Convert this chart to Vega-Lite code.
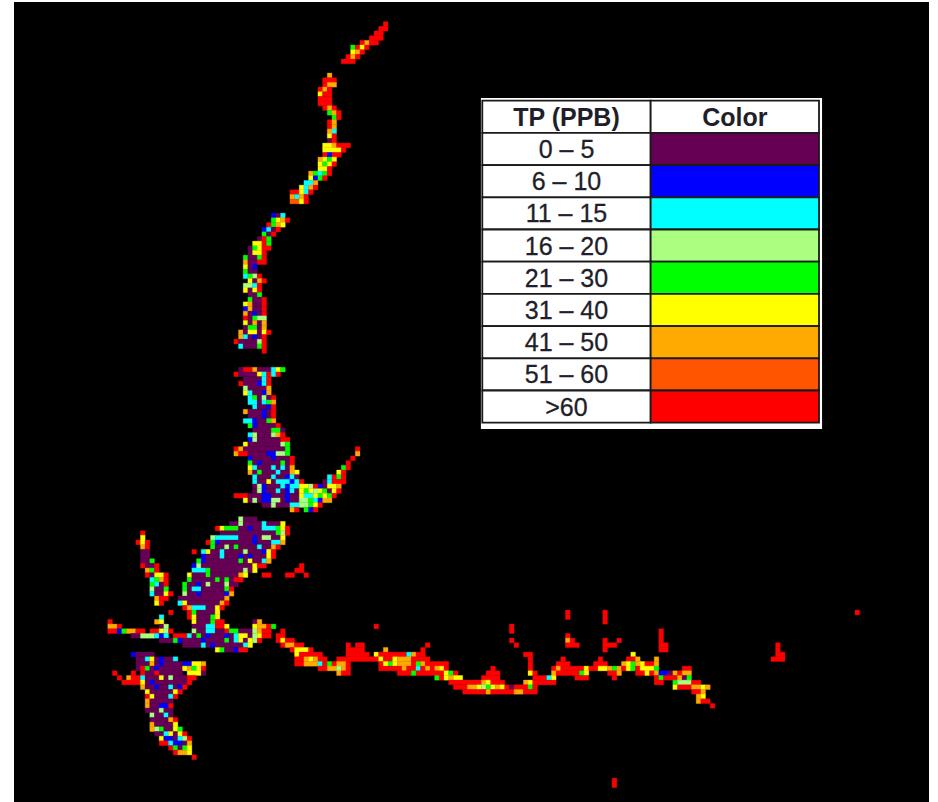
{"$schema":"https://vega.github.io/schema/vega-lite/v6.json","width":915,"height":800,"autosize":"none","padding":{"left":14,"top":2,"right":9,"bottom":0},"background":"#ffffff","config":{"view":{"fill":"#000000","stroke":null}},
"datasets":{"panel":[{"a":102.9,"b":175.95,"t":21.34,"u":92.2}],
"table":[{"row":"TP (PPB)","col":"TP (PPB)","k":"W","text":"TP (PPB)","h":1},{"row":"TP (PPB)","col":"Color","k":"W","text":"Color","h":1},
{"row":"0 – 5","col":"TP (PPB)","k":"W","text":"0 – 5","h":0},{"row":"0 – 5","col":"Color","k":"P","text":"","h":0},
{"row":"6 – 10","col":"TP (PPB)","k":"W","text":"6 – 10","h":0},{"row":"6 – 10","col":"Color","k":"B","text":"","h":0},
{"row":"11 – 15","col":"TP (PPB)","k":"W","text":"11 – 15","h":0},{"row":"11 – 15","col":"Color","k":"C","text":"","h":0},
{"row":"16 – 20","col":"TP (PPB)","k":"W","text":"16 – 20","h":0},{"row":"16 – 20","col":"Color","k":"L","text":"","h":0},
{"row":"21 – 30","col":"TP (PPB)","k":"W","text":"21 – 30","h":0},{"row":"21 – 30","col":"Color","k":"G","text":"","h":0},
{"row":"31 – 40","col":"TP (PPB)","k":"W","text":"31 – 40","h":0},{"row":"31 – 40","col":"Color","k":"Y","text":"","h":0},
{"row":"41 – 50","col":"TP (PPB)","k":"W","text":"41 – 50","h":0},{"row":"41 – 50","col":"Color","k":"O","text":"","h":0},
{"row":"51 – 60","col":"TP (PPB)","k":"W","text":"51 – 60","h":0},{"row":"51 – 60","col":"Color","k":"N","text":"","h":0},
{"row":">60","col":"TP (PPB)","k":"W","text":">60","h":0},{"row":">60","col":"Color","k":"R","text":"","h":0}],
"cells":[
{"a":82,"b":83,"r":5,"k":"R"},{"a":81,"b":83,"r":6,"k":"R"},{"a":80,"b":82,"r":7,"k":"R"},{"a":79,"b":82,"r":8,"k":"R"},{"a":77,"b":78,"r":9,"k":"R"},{"a":78,"b":79,"r":9,"k":"O"},{"a":79,"b":81,"r":9,"k":"R"},{"a":75,"b":76,"r":10,"k":"G"},{"a":76,"b":77,"r":10,"k":"R"},{"a":77,"b":78,"r":10,"k":"Y"},{"a":78,"b":79,"r":10,"k":"R"},{"a":75,"b":76,"r":11,"k":"Y"},{"a":76,"b":77,"r":11,"k":"O"},{"a":77,"b":78,"r":11,"k":"R"},{"a":74,"b":75,"r":12,"k":"R"},{"a":75,"b":76,"r":12,"k":"O"},{"a":76,"b":77,"r":12,"k":"R"},{"a":73,"b":76,"r":13,"k":"R"},
{"a":70,"b":71,"r":16,"k":"O"},{"a":69,"b":72,"r":17,"k":"R"},{"a":69,"b":70,"r":18,"k":"R"},{"a":70,"b":72,"r":18,"k":"O"},{"a":68,"b":69,"r":19,"k":"R"},{"a":69,"b":70,"r":19,"k":"O"},{"a":70,"b":71,"r":19,"k":"R"},{"a":68,"b":69,"r":20,"k":"Y"},{"a":69,"b":71,"r":20,"k":"R"},{"a":68,"b":71,"r":21,"k":"R"},{"a":68,"b":71,"r":22,"k":"R"},{"a":69,"b":70,"r":23,"k":"R"},{"a":70,"b":71,"r":23,"k":"O"},{"a":71,"b":72,"r":23,"k":"R"},{"a":70,"b":71,"r":24,"k":"G"},{"a":71,"b":72,"r":24,"k":"O"},{"a":72,"b":73,"r":24,"k":"R"},{"a":71,"b":72,"r":25,"k":"G"},{"a":72,"b":73,"r":25,"k":"R"},{"a":70,"b":71,"r":26,"k":"R"},{"a":71,"b":72,"r":26,"k":"O"},{"a":70,"b":71,"r":27,"k":"R"},{"a":71,"b":72,"r":27,"k":"O"},{"a":70,"b":71,"r":28,"k":"O"},{"a":71,"b":72,"r":28,"k":"C"},{"a":70,"b":71,"r":29,"k":"Y"},{"a":71,"b":72,"r":29,"k":"R"},{"a":70,"b":71,"r":30,"k":"P"},{"a":71,"b":72,"r":30,"k":"R"},
{"a":69,"b":71,"r":31,"k":"Y"},{"a":71,"b":72,"r":31,"k":"O"},{"a":72,"b":75,"r":31,"k":"R"},{"a":69,"b":73,"r":32,"k":"Y"},{"a":73,"b":74,"r":32,"k":"R"},{"a":69,"b":70,"r":33,"k":"R"},{"a":70,"b":71,"r":33,"k":"B"},{"a":71,"b":73,"r":33,"k":"R"},{"a":68,"b":69,"r":34,"k":"O"},{"a":69,"b":70,"r":34,"k":"Y"},{"a":70,"b":71,"r":34,"k":"G"},{"a":71,"b":72,"r":34,"k":"Y"},{"a":68,"b":69,"r":35,"k":"Y"},{"a":69,"b":70,"r":35,"k":"G"},{"a":70,"b":71,"r":35,"k":"Y"},{"a":71,"b":72,"r":35,"k":"R"},{"a":68,"b":70,"r":36,"k":"Y"},{"a":70,"b":71,"r":36,"k":"R"},{"a":66,"b":67,"r":37,"k":"O"},{"a":67,"b":68,"r":37,"k":"G"},{"a":68,"b":69,"r":37,"k":"C"},{"a":69,"b":70,"r":37,"k":"G"},{"a":70,"b":71,"r":37,"k":"R"},{"a":66,"b":67,"r":38,"k":"Y"},{"a":67,"b":68,"r":38,"k":"B"},{"a":68,"b":69,"r":38,"k":"G"},{"a":69,"b":70,"r":38,"k":"R"},{"a":65,"b":67,"r":39,"k":"C"},{"a":67,"b":68,"r":39,"k":"O"},{"a":64,"b":65,"r":40,"k":"Y"},{"a":65,"b":66,"r":40,"k":"C"},{"a":66,"b":67,"r":40,"k":"O"},{"a":67,"b":68,"r":40,"k":"R"},{"a":62,"b":64,"r":41,"k":"R"},{"a":64,"b":65,"r":41,"k":"Y"},{"a":65,"b":66,"r":41,"k":"C"},{"a":66,"b":67,"r":41,"k":"R"},{"a":62,"b":63,"r":42,"k":"O"},{"a":63,"b":64,"r":42,"k":"C"},{"a":64,"b":65,"r":42,"k":"O"},{"a":65,"b":66,"r":42,"k":"R"},{"a":62,"b":64,"r":43,"k":"N"},{"a":64,"b":65,"r":43,"k":"Y"},{"a":65,"b":66,"r":43,"k":"R"},
{"a":58,"b":59,"r":46,"k":"B"},{"a":59,"b":60,"r":46,"k":"P"},{"a":60,"b":61,"r":46,"k":"C"},{"a":58,"b":59,"r":47,"k":"G"},{"a":59,"b":60,"r":47,"k":"Y"},{"a":60,"b":61,"r":47,"k":"O"},{"a":61,"b":62,"r":47,"k":"R"},{"a":57,"b":58,"r":48,"k":"R"},{"a":58,"b":59,"r":48,"k":"G"},{"a":59,"b":60,"r":48,"k":"O"},{"a":60,"b":61,"r":48,"k":"Y"},{"a":56,"b":57,"r":49,"k":"B"},{"a":57,"b":58,"r":49,"k":"C"},{"a":58,"b":59,"r":49,"k":"P"},{"a":59,"b":60,"r":49,"k":"R"},{"a":56,"b":57,"r":50,"k":"G"},{"a":57,"b":58,"r":50,"k":"P"},{"a":58,"b":59,"r":50,"k":"R"},{"a":55,"b":56,"r":51,"k":"P"},{"a":56,"b":57,"r":51,"k":"R"},{"a":57,"b":58,"r":51,"k":"G"},{"a":54,"b":56,"r":52,"k":"Y"},{"a":56,"b":57,"r":52,"k":"R"},{"a":57,"b":58,"r":52,"k":"G"},{"a":53,"b":54,"r":53,"k":"P"},{"a":54,"b":55,"r":53,"k":"G"},{"a":55,"b":56,"r":53,"k":"Y"},{"a":56,"b":58,"r":53,"k":"R"},{"a":53,"b":54,"r":54,"k":"P"},{"a":54,"b":56,"r":54,"k":"Y"},{"a":56,"b":57,"r":54,"k":"R"},{"a":52,"b":53,"r":55,"k":"G"},{"a":53,"b":55,"r":55,"k":"P"},{"a":55,"b":56,"r":55,"k":"G"},{"a":56,"b":57,"r":55,"k":"R"},{"a":52,"b":53,"r":56,"k":"O"},{"a":53,"b":55,"r":56,"k":"P"},{"a":55,"b":57,"r":56,"k":"R"},{"a":52,"b":53,"r":57,"k":"Y"},{"a":53,"b":54,"r":57,"k":"P"},{"a":54,"b":55,"r":57,"k":"B"},{"a":52,"b":53,"r":58,"k":"G"},{"a":53,"b":55,"r":58,"k":"P"},{"a":52,"b":53,"r":59,"k":"C"},{"a":53,"b":54,"r":59,"k":"G"},{"a":54,"b":55,"r":59,"k":"L"},{"a":55,"b":56,"r":59,"k":"R"},{"a":53,"b":54,"r":60,"k":"Y"},{"a":54,"b":55,"r":60,"k":"P"},{"a":55,"b":56,"r":60,"k":"O"},{"a":56,"b":57,"r":60,"k":"R"},{"a":52,"b":54,"r":61,"k":"L"},{"a":54,"b":55,"r":61,"k":"C"},{"a":55,"b":56,"r":61,"k":"R"},{"a":52,"b":53,"r":62,"k":"Y"},{"a":53,"b":54,"r":62,"k":"P"},{"a":54,"b":55,"r":62,"k":"Y"},{"a":55,"b":56,"r":62,"k":"R"},{"a":53,"b":55,"r":63,"k":"P"},{"a":55,"b":56,"r":63,"k":"G"},{"a":53,"b":54,"r":64,"k":"G"},{"a":54,"b":56,"r":64,"k":"P"},{"a":56,"b":57,"r":64,"k":"R"},{"a":52,"b":53,"r":65,"k":"Y"},{"a":53,"b":54,"r":65,"k":"O"},{"a":54,"b":56,"r":65,"k":"P"},{"a":56,"b":57,"r":65,"k":"R"},{"a":52,"b":53,"r":66,"k":"B"},{"a":53,"b":54,"r":66,"k":"O"},{"a":54,"b":56,"r":66,"k":"P"},{"a":56,"b":57,"r":66,"k":"R"},{"a":52,"b":53,"r":67,"k":"O"},{"a":53,"b":54,"r":67,"k":"P"},{"a":54,"b":55,"r":67,"k":"B"},{"a":55,"b":56,"r":67,"k":"P"},{"a":56,"b":57,"r":67,"k":"R"},{"a":52,"b":53,"r":68,"k":"R"},{"a":53,"b":54,"r":68,"k":"P"},{"a":54,"b":55,"r":68,"k":"G"},{"a":55,"b":57,"r":68,"k":"L"},{"a":52,"b":53,"r":69,"k":"Y"},{"a":53,"b":54,"r":69,"k":"P"},{"a":54,"b":55,"r":69,"k":"O"},{"a":55,"b":56,"r":69,"k":"P"},{"a":56,"b":57,"r":69,"k":"O"},{"a":52,"b":53,"r":70,"k":"P"},{"a":53,"b":55,"r":70,"k":"G"},{"a":55,"b":56,"r":70,"k":"P"},{"a":56,"b":57,"r":70,"k":"O"},{"a":51,"b":52,"r":71,"k":"O"},{"a":52,"b":53,"r":71,"k":"P"},{"a":53,"b":55,"r":71,"k":"Y"},{"a":55,"b":56,"r":71,"k":"P"},{"a":56,"b":57,"r":71,"k":"Y"},{"a":57,"b":58,"r":71,"k":"R"},{"a":51,"b":52,"r":72,"k":"O"},{"a":52,"b":53,"r":72,"k":"C"},{"a":53,"b":54,"r":72,"k":"P"},{"a":54,"b":55,"r":72,"k":"B"},{"a":55,"b":56,"r":72,"k":"P"},{"a":56,"b":57,"r":72,"k":"R"},{"a":50,"b":51,"r":73,"k":"R"},{"a":51,"b":55,"r":73,"k":"P"},{"a":55,"b":56,"r":73,"k":"L"},{"a":56,"b":57,"r":73,"k":"R"},{"a":51,"b":52,"r":74,"k":"C"},{"a":52,"b":55,"r":74,"k":"P"},{"a":55,"b":56,"r":74,"k":"G"},{"a":56,"b":57,"r":74,"k":"R"},{"a":56,"b":57,"r":75,"k":"R"},
{"a":51,"b":52,"r":79,"k":"P"},{"a":52,"b":54,"r":79,"k":"R"},{"a":54,"b":55,"r":79,"k":"O"},{"a":55,"b":58,"r":79,"k":"P"},{"a":58,"b":59,"r":79,"k":"C"},{"a":59,"b":60,"r":79,"k":"Y"},{"a":60,"b":61,"r":79,"k":"G"},{"a":50,"b":51,"r":80,"k":"R"},{"a":51,"b":55,"r":80,"k":"P"},{"a":55,"b":56,"r":80,"k":"Y"},{"a":56,"b":57,"r":80,"k":"C"},{"a":57,"b":58,"r":80,"k":"R"},{"a":58,"b":59,"r":80,"k":"C"},{"a":59,"b":60,"r":80,"k":"R"},{"a":52,"b":56,"r":81,"k":"P"},{"a":56,"b":57,"r":81,"k":"C"},{"a":57,"b":58,"r":81,"k":"R"},{"a":51,"b":52,"r":82,"k":"R"},{"a":52,"b":55,"r":82,"k":"P"},{"a":55,"b":56,"r":82,"k":"B"},{"a":56,"b":57,"r":82,"k":"C"},{"a":57,"b":58,"r":82,"k":"R"},{"a":52,"b":53,"r":83,"k":"L"},{"a":53,"b":57,"r":83,"k":"P"},{"a":57,"b":58,"r":83,"k":"O"},{"a":52,"b":53,"r":84,"k":"Y"},{"a":53,"b":54,"r":84,"k":"C"},{"a":54,"b":56,"r":84,"k":"P"},{"a":56,"b":57,"r":84,"k":"B"},{"a":57,"b":58,"r":84,"k":"O"},{"a":53,"b":54,"r":85,"k":"C"},{"a":54,"b":55,"r":85,"k":"G"},{"a":55,"b":56,"r":85,"k":"P"},{"a":56,"b":57,"r":85,"k":"L"},{"a":57,"b":58,"r":85,"k":"P"},{"a":58,"b":59,"r":85,"k":"R"},{"a":53,"b":55,"r":86,"k":"C"},{"a":55,"b":56,"r":86,"k":"P"},{"a":56,"b":57,"r":86,"k":"C"},{"a":57,"b":58,"r":86,"k":"G"},{"a":58,"b":59,"r":86,"k":"O"},{"a":54,"b":55,"r":87,"k":"C"},{"a":55,"b":57,"r":87,"k":"P"},{"a":57,"b":58,"r":87,"k":"B"},{"a":58,"b":59,"r":87,"k":"R"},{"a":52,"b":53,"r":88,"k":"O"},{"a":53,"b":56,"r":88,"k":"P"},{"a":56,"b":57,"r":88,"k":"B"},{"a":57,"b":58,"r":88,"k":"P"},{"a":58,"b":59,"r":88,"k":"R"},{"a":53,"b":56,"r":89,"k":"P"},{"a":56,"b":57,"r":89,"k":"B"},{"a":57,"b":58,"r":89,"k":"P"},{"a":58,"b":59,"r":89,"k":"R"},{"a":52,"b":54,"r":90,"k":"C"},{"a":54,"b":55,"r":90,"k":"B"},{"a":55,"b":57,"r":90,"k":"P"},{"a":57,"b":58,"r":90,"k":"G"},{"a":58,"b":59,"r":90,"k":"O"},{"a":53,"b":54,"r":91,"k":"G"},{"a":54,"b":55,"r":91,"k":"B"},{"a":55,"b":59,"r":91,"k":"P"},{"a":59,"b":60,"r":91,"k":"R"},{"a":54,"b":58,"r":92,"k":"P"},{"a":58,"b":60,"r":92,"k":"G"},{"a":60,"b":61,"r":92,"k":"P"},{"a":53,"b":54,"r":93,"k":"C"},{"a":54,"b":55,"r":93,"k":"L"},{"a":55,"b":58,"r":93,"k":"P"},{"a":58,"b":59,"r":93,"k":"L"},{"a":59,"b":60,"r":93,"k":"O"},{"a":60,"b":61,"r":93,"k":"R"},{"a":53,"b":54,"r":94,"k":"B"},{"a":54,"b":55,"r":94,"k":"L"},{"a":55,"b":60,"r":94,"k":"P"},{"a":60,"b":62,"r":94,"k":"R"},{"a":52,"b":53,"r":95,"k":"Y"},{"a":53,"b":60,"r":95,"k":"P"},{"a":60,"b":61,"r":95,"k":"L"},{"a":61,"b":62,"r":95,"k":"G"},{"a":50,"b":51,"r":96,"k":"R"},{"a":51,"b":52,"r":96,"k":"O"},{"a":52,"b":61,"r":96,"k":"P"},{"a":61,"b":62,"r":96,"k":"G"},{"a":76,"b":77,"r":96,"k":"R"},{"a":50,"b":51,"r":97,"k":"O"},{"a":51,"b":53,"r":97,"k":"R"},{"a":53,"b":57,"r":97,"k":"P"},{"a":57,"b":59,"r":97,"k":"B"},{"a":59,"b":61,"r":97,"k":"L"},{"a":61,"b":62,"r":97,"k":"G"},{"a":76,"b":77,"r":97,"k":"O"},{"a":53,"b":54,"r":98,"k":"B"},{"a":54,"b":58,"r":98,"k":"P"},{"a":58,"b":59,"r":98,"k":"B"},{"a":59,"b":62,"r":98,"k":"P"},{"a":62,"b":63,"r":98,"k":"R"},{"a":75,"b":76,"r":98,"k":"R"},{"a":53,"b":54,"r":99,"k":"G"},{"a":54,"b":55,"r":99,"k":"P"},{"a":55,"b":56,"r":99,"k":"B"},{"a":56,"b":60,"r":99,"k":"P"},{"a":60,"b":61,"r":99,"k":"G"},{"a":61,"b":62,"r":99,"k":"P"},{"a":62,"b":63,"r":99,"k":"R"},{"a":74,"b":75,"r":99,"k":"R"},{"a":53,"b":54,"r":100,"k":"Y"},{"a":54,"b":55,"r":100,"k":"C"},{"a":55,"b":58,"r":100,"k":"P"},{"a":58,"b":59,"r":100,"k":"C"},{"a":59,"b":60,"r":100,"k":"P"},{"a":60,"b":61,"r":100,"k":"C"},{"a":61,"b":62,"r":100,"k":"P"},{"a":62,"b":63,"r":100,"k":"O"},{"a":73,"b":74,"r":100,"k":"G"},{"a":74,"b":75,"r":100,"k":"R"},{"a":53,"b":54,"r":101,"k":"O"},{"a":54,"b":55,"r":101,"k":"P"},{"a":55,"b":56,"r":101,"k":"G"},{"a":56,"b":59,"r":101,"k":"P"},{"a":59,"b":60,"r":101,"k":"C"},{"a":60,"b":62,"r":101,"k":"P"},{"a":62,"b":63,"r":101,"k":"O"},{"a":63,"b":64,"r":101,"k":"Y"},{"a":72,"b":73,"r":101,"k":"Y"},{"a":73,"b":74,"r":101,"k":"R"},{"a":54,"b":55,"r":102,"k":"C"},{"a":55,"b":58,"r":102,"k":"P"},{"a":58,"b":59,"r":102,"k":"C"},{"a":59,"b":61,"r":102,"k":"P"},{"a":61,"b":62,"r":102,"k":"B"},{"a":62,"b":63,"r":102,"k":"C"},{"a":63,"b":64,"r":102,"k":"P"},{"a":70,"b":71,"r":102,"k":"C"},{"a":71,"b":72,"r":102,"k":"R"},{"a":72,"b":73,"r":102,"k":"G"},{"a":73,"b":74,"r":102,"k":"R"},{"a":54,"b":55,"r":103,"k":"C"},{"a":55,"b":57,"r":103,"k":"P"},{"a":57,"b":58,"r":103,"k":"Y"},{"a":58,"b":59,"r":103,"k":"P"},{"a":59,"b":62,"r":103,"k":"C"},{"a":62,"b":63,"r":103,"k":"B"},{"a":63,"b":64,"r":103,"k":"C"},{"a":64,"b":65,"r":103,"k":"R"},{"a":69,"b":70,"r":103,"k":"P"},{"a":70,"b":71,"r":103,"k":"C"},{"a":71,"b":74,"r":103,"k":"R"},{"a":54,"b":55,"r":104,"k":"P"},{"a":55,"b":56,"r":104,"k":"L"},{"a":56,"b":57,"r":104,"k":"B"},{"a":57,"b":60,"r":104,"k":"P"},{"a":60,"b":61,"r":104,"k":"C"},{"a":61,"b":62,"r":104,"k":"B"},{"a":62,"b":64,"r":104,"k":"C"},{"a":64,"b":66,"r":104,"k":"Y"},{"a":66,"b":67,"r":104,"k":"L"},{"a":67,"b":68,"r":104,"k":"R"},{"a":68,"b":69,"r":104,"k":"B"},{"a":69,"b":70,"r":104,"k":"P"},{"a":70,"b":72,"r":104,"k":"Y"},{"a":72,"b":73,"r":104,"k":"O"},{"a":54,"b":55,"r":105,"k":"P"},{"a":55,"b":56,"r":105,"k":"L"},{"a":56,"b":57,"r":105,"k":"B"},{"a":57,"b":59,"r":105,"k":"P"},{"a":59,"b":60,"r":105,"k":"C"},{"a":60,"b":61,"r":105,"k":"P"},{"a":61,"b":62,"r":105,"k":"B"},{"a":62,"b":63,"r":105,"k":"C"},{"a":63,"b":64,"r":105,"k":"P"},{"a":64,"b":65,"r":105,"k":"Y"},{"a":65,"b":66,"r":105,"k":"G"},{"a":66,"b":67,"r":105,"k":"Y"},{"a":67,"b":68,"r":105,"k":"L"},{"a":68,"b":69,"r":105,"k":"Y"},{"a":69,"b":70,"r":105,"k":"G"},{"a":70,"b":71,"r":105,"k":"P"},{"a":71,"b":72,"r":105,"k":"Y"},{"a":72,"b":73,"r":105,"k":"R"},{"a":50,"b":53,"r":106,"k":"R"},{"a":53,"b":56,"r":106,"k":"P"},{"a":56,"b":58,"r":106,"k":"B"},{"a":58,"b":61,"r":106,"k":"P"},{"a":61,"b":62,"r":106,"k":"B"},{"a":62,"b":64,"r":106,"k":"P"},{"a":64,"b":65,"r":106,"k":"Y"},{"a":65,"b":67,"r":106,"k":"C"},{"a":67,"b":68,"r":106,"k":"Y"},{"a":68,"b":69,"r":106,"k":"G"},{"a":69,"b":70,"r":106,"k":"Y"},{"a":70,"b":71,"r":106,"k":"G"},{"a":71,"b":72,"r":106,"k":"R"},{"a":52,"b":53,"r":107,"k":"Y"},{"a":53,"b":54,"r":107,"k":"P"},{"a":54,"b":55,"r":107,"k":"L"},{"a":55,"b":56,"r":107,"k":"P"},{"a":56,"b":58,"r":107,"k":"B"},{"a":58,"b":60,"r":107,"k":"L"},{"a":60,"b":61,"r":107,"k":"P"},{"a":61,"b":62,"r":107,"k":"B"},{"a":62,"b":64,"r":107,"k":"P"},{"a":64,"b":66,"r":107,"k":"L"},{"a":66,"b":67,"r":107,"k":"G"},{"a":67,"b":68,"r":107,"k":"C"},{"a":68,"b":69,"r":107,"k":"B"},{"a":69,"b":71,"r":107,"k":"O"},{"a":56,"b":58,"r":108,"k":"P"},{"a":58,"b":59,"r":108,"k":"L"},{"a":59,"b":62,"r":108,"k":"P"},{"a":62,"b":64,"r":108,"k":"C"},{"a":64,"b":66,"r":108,"k":"L"},{"a":66,"b":67,"r":108,"k":"G"},{"a":67,"b":68,"r":108,"k":"Y"},{"a":68,"b":69,"r":108,"k":"R"},{"a":62,"b":63,"r":109,"k":"O"},{"a":63,"b":64,"r":109,"k":"R"},{"a":65,"b":66,"r":109,"k":"G"},{"a":66,"b":67,"r":109,"k":"B"},{"a":67,"b":68,"r":109,"k":"R"},
{"a":51,"b":52,"r":111,"k":"L"},{"a":52,"b":55,"r":111,"k":"P"},{"a":49,"b":51,"r":112,"k":"P"},{"a":51,"b":52,"r":112,"k":"L"},{"a":52,"b":56,"r":112,"k":"P"},{"a":56,"b":57,"r":112,"k":"C"},{"a":57,"b":60,"r":112,"k":"P"},{"a":60,"b":61,"r":112,"k":"Y"},{"a":46,"b":47,"r":113,"k":"R"},{"a":47,"b":48,"r":113,"k":"Y"},{"a":48,"b":51,"r":113,"k":"G"},{"a":51,"b":53,"r":113,"k":"P"},{"a":53,"b":54,"r":113,"k":"B"},{"a":54,"b":56,"r":113,"k":"P"},{"a":56,"b":59,"r":113,"k":"C"},{"a":59,"b":60,"r":113,"k":"G"},{"a":60,"b":61,"r":113,"k":"Y"},{"a":61,"b":62,"r":113,"k":"R"},{"a":30,"b":31,"r":114,"k":"R"},{"a":47,"b":59,"r":114,"k":"P"},{"a":59,"b":60,"r":114,"k":"G"},{"a":60,"b":61,"r":114,"k":"L"},{"a":61,"b":62,"r":114,"k":"R"},{"a":30,"b":31,"r":115,"k":"Y"},{"a":45,"b":46,"r":115,"k":"L"},{"a":46,"b":51,"r":115,"k":"C"},{"a":51,"b":54,"r":115,"k":"P"},{"a":54,"b":55,"r":115,"k":"B"},{"a":55,"b":56,"r":115,"k":"P"},{"a":56,"b":58,"r":115,"k":"L"},{"a":58,"b":60,"r":115,"k":"P"},{"a":60,"b":61,"r":115,"k":"Y"},{"a":29,"b":30,"r":116,"k":"R"},{"a":30,"b":31,"r":116,"k":"Y"},{"a":31,"b":32,"r":116,"k":"R"},{"a":44,"b":45,"r":116,"k":"R"},{"a":45,"b":46,"r":116,"k":"G"},{"a":46,"b":47,"r":116,"k":"B"},{"a":47,"b":54,"r":116,"k":"P"},{"a":54,"b":55,"r":116,"k":"B"},{"a":55,"b":58,"r":116,"k":"P"},{"a":58,"b":60,"r":116,"k":"C"},{"a":60,"b":61,"r":116,"k":"O"},{"a":30,"b":31,"r":117,"k":"O"},{"a":31,"b":32,"r":117,"k":"R"},{"a":45,"b":46,"r":117,"k":"G"},{"a":46,"b":48,"r":117,"k":"P"},{"a":48,"b":49,"r":117,"k":"L"},{"a":49,"b":50,"r":117,"k":"P"},{"a":50,"b":51,"r":117,"k":"G"},{"a":51,"b":55,"r":117,"k":"P"},{"a":55,"b":56,"r":117,"k":"C"},{"a":56,"b":58,"r":117,"k":"P"},{"a":58,"b":59,"r":117,"k":"O"},{"a":59,"b":60,"r":117,"k":"R"},{"a":30,"b":32,"r":118,"k":"P"},{"a":41,"b":42,"r":118,"k":"R"},{"a":43,"b":44,"r":118,"k":"C"},{"a":44,"b":45,"r":118,"k":"Y"},{"a":45,"b":47,"r":118,"k":"P"},{"a":47,"b":48,"r":118,"k":"C"},{"a":48,"b":52,"r":118,"k":"P"},{"a":52,"b":53,"r":118,"k":"L"},{"a":53,"b":56,"r":118,"k":"P"},{"a":56,"b":57,"r":118,"k":"B"},{"a":57,"b":58,"r":118,"k":"Y"},{"a":58,"b":59,"r":118,"k":"R"},{"a":30,"b":32,"r":119,"k":"P"},{"a":43,"b":44,"r":119,"k":"B"},{"a":44,"b":47,"r":119,"k":"P"},{"a":47,"b":48,"r":119,"k":"C"},{"a":48,"b":51,"r":119,"k":"P"},{"a":51,"b":52,"r":119,"k":"B"},{"a":52,"b":53,"r":119,"k":"P"},{"a":53,"b":54,"r":119,"k":"B"},{"a":54,"b":57,"r":119,"k":"P"},{"a":57,"b":58,"r":119,"k":"Y"},{"a":58,"b":59,"r":119,"k":"R"},{"a":30,"b":32,"r":120,"k":"P"},{"a":32,"b":33,"r":120,"k":"G"},{"a":42,"b":43,"r":120,"k":"G"},{"a":43,"b":44,"r":120,"k":"B"},{"a":44,"b":51,"r":120,"k":"P"},{"a":51,"b":52,"r":120,"k":"G"},{"a":52,"b":53,"r":120,"k":"P"},{"a":53,"b":54,"r":120,"k":"Y"},{"a":54,"b":56,"r":120,"k":"P"},{"a":56,"b":57,"r":120,"k":"C"},{"a":57,"b":58,"r":120,"k":"O"},{"a":30,"b":31,"r":121,"k":"R"},{"a":31,"b":33,"r":121,"k":"P"},{"a":33,"b":34,"r":121,"k":"R"},{"a":41,"b":42,"r":121,"k":"B"},{"a":42,"b":43,"r":121,"k":"L"},{"a":43,"b":54,"r":121,"k":"P"},{"a":54,"b":55,"r":121,"k":"Y"},{"a":55,"b":57,"r":121,"k":"R"},{"a":64,"b":65,"r":121,"k":"R"},{"a":31,"b":32,"r":122,"k":"O"},{"a":32,"b":33,"r":122,"k":"G"},{"a":33,"b":34,"r":122,"k":"R"},{"a":41,"b":44,"r":122,"k":"C"},{"a":44,"b":45,"r":122,"k":"G"},{"a":45,"b":52,"r":122,"k":"P"},{"a":52,"b":53,"r":122,"k":"L"},{"a":53,"b":54,"r":122,"k":"P"},{"a":54,"b":55,"r":122,"k":"Y"},{"a":63,"b":65,"r":122,"k":"R"},{"a":31,"b":32,"r":123,"k":"R"},{"a":32,"b":33,"r":123,"k":"P"},{"a":33,"b":35,"r":123,"k":"Y"},{"a":35,"b":36,"r":123,"k":"R"},{"a":40,"b":41,"r":123,"k":"Y"},{"a":41,"b":44,"r":123,"k":"P"},{"a":44,"b":45,"r":123,"k":"G"},{"a":45,"b":51,"r":123,"k":"P"},{"a":51,"b":52,"r":123,"k":"O"},{"a":52,"b":53,"r":123,"k":"Y"},{"a":56,"b":58,"r":123,"k":"R"},{"a":61,"b":63,"r":123,"k":"R"},{"a":65,"b":66,"r":123,"k":"R"},{"a":32,"b":33,"r":124,"k":"C"},{"a":33,"b":34,"r":124,"k":"G"},{"a":34,"b":35,"r":124,"k":"O"},{"a":35,"b":36,"r":124,"k":"R"},{"a":40,"b":41,"r":124,"k":"G"},{"a":41,"b":46,"r":124,"k":"P"},{"a":46,"b":47,"r":124,"k":"G"},{"a":47,"b":48,"r":124,"k":"P"},{"a":48,"b":49,"r":124,"k":"G"},{"a":49,"b":50,"r":124,"k":"P"},{"a":50,"b":52,"r":124,"k":"R"},{"a":32,"b":33,"r":125,"k":"G"},{"a":33,"b":34,"r":125,"k":"C"},{"a":34,"b":35,"r":125,"k":"P"},{"a":35,"b":36,"r":125,"k":"R"},{"a":39,"b":40,"r":125,"k":"G"},{"a":40,"b":42,"r":125,"k":"P"},{"a":42,"b":43,"r":125,"k":"B"},{"a":43,"b":44,"r":125,"k":"P"},{"a":44,"b":45,"r":125,"k":"L"},{"a":45,"b":48,"r":125,"k":"P"},{"a":48,"b":49,"r":125,"k":"L"},{"a":49,"b":51,"r":125,"k":"P"},{"a":32,"b":33,"r":126,"k":"L"},{"a":33,"b":35,"r":126,"k":"P"},{"a":35,"b":36,"r":126,"k":"G"},{"a":39,"b":40,"r":126,"k":"G"},{"a":40,"b":41,"r":126,"k":"P"},{"a":41,"b":43,"r":126,"k":"C"},{"a":43,"b":48,"r":126,"k":"P"},{"a":48,"b":49,"r":126,"k":"G"},{"a":49,"b":50,"r":126,"k":"R"},{"a":32,"b":33,"r":127,"k":"C"},{"a":33,"b":35,"r":127,"k":"P"},{"a":35,"b":36,"r":127,"k":"Y"},{"a":36,"b":37,"r":127,"k":"R"},{"a":39,"b":40,"r":127,"k":"L"},{"a":40,"b":42,"r":127,"k":"P"},{"a":42,"b":43,"r":127,"k":"B"},{"a":43,"b":48,"r":127,"k":"P"},{"a":48,"b":49,"r":127,"k":"B"},{"a":49,"b":50,"r":127,"k":"O"},{"a":33,"b":34,"r":128,"k":"O"},{"a":34,"b":36,"r":128,"k":"R"},{"a":38,"b":48,"r":128,"k":"P"},{"a":48,"b":49,"r":128,"k":"O"},{"a":33,"b":34,"r":129,"k":"Y"},{"a":34,"b":35,"r":129,"k":"R"},{"a":38,"b":39,"r":129,"k":"C"},{"a":39,"b":40,"r":129,"k":"Y"},{"a":40,"b":47,"r":129,"k":"P"},{"a":47,"b":48,"r":129,"k":"O"},{"a":48,"b":49,"r":129,"k":"R"},{"a":39,"b":40,"r":130,"k":"R"},{"a":40,"b":41,"r":130,"k":"O"},{"a":41,"b":44,"r":130,"k":"C"},{"a":44,"b":46,"r":130,"k":"P"},{"a":46,"b":47,"r":130,"k":"Y"},{"a":47,"b":48,"r":130,"k":"R"},{"a":36,"b":37,"r":131,"k":"R"},{"a":40,"b":41,"r":131,"k":"R"},{"a":41,"b":42,"r":131,"k":"G"},{"a":42,"b":46,"r":131,"k":"P"},{"a":46,"b":47,"r":131,"k":"Y"},{"a":34,"b":35,"r":132,"k":"C"},{"a":40,"b":41,"r":132,"k":"R"},{"a":41,"b":42,"r":132,"k":"Y"},{"a":42,"b":45,"r":132,"k":"P"},{"a":45,"b":46,"r":132,"k":"G"},{"a":46,"b":47,"r":132,"k":"Y"},{"a":23,"b":24,"r":133,"k":"R"},{"a":33,"b":34,"r":133,"k":"O"},{"a":34,"b":35,"r":133,"k":"Y"},{"a":41,"b":42,"r":133,"k":"Y"},{"a":42,"b":45,"r":133,"k":"P"},{"a":45,"b":46,"r":133,"k":"G"},{"a":46,"b":48,"r":133,"k":"R"},{"a":54,"b":55,"r":133,"k":"P"},{"a":55,"b":56,"r":133,"k":"O"},{"a":23,"b":25,"r":134,"k":"O"},{"a":25,"b":26,"r":134,"k":"R"},{"a":34,"b":35,"r":134,"k":"P"},{"a":35,"b":36,"r":134,"k":"L"},{"a":41,"b":44,"r":134,"k":"P"},{"a":44,"b":46,"r":134,"k":"C"},{"a":46,"b":48,"r":134,"k":"R"},{"a":48,"b":49,"r":134,"k":"Y"},{"a":54,"b":55,"r":134,"k":"Y"},{"a":55,"b":57,"r":134,"k":"O"},{"a":57,"b":58,"r":134,"k":"R"},{"a":58,"b":59,"r":134,"k":"G"},{"a":80,"b":81,"r":134,"k":"R"},
{"a":23,"b":25,"r":135,"k":"R"},{"a":25,"b":26,"r":135,"k":"B"},{"a":26,"b":27,"r":135,"k":"G"},{"a":27,"b":29,"r":135,"k":"O"},{"a":29,"b":31,"r":135,"k":"R"},{"a":32,"b":34,"r":135,"k":"R"},{"a":34,"b":35,"r":135,"k":"Y"},{"a":35,"b":36,"r":135,"k":"L"},{"a":36,"b":37,"r":135,"k":"R"},{"a":41,"b":42,"r":135,"k":"L"},{"a":42,"b":44,"r":135,"k":"P"},{"a":44,"b":46,"r":135,"k":"C"},{"a":46,"b":48,"r":135,"k":"P"},{"a":48,"b":49,"r":135,"k":"R"},{"a":49,"b":51,"r":135,"k":"G"},{"a":51,"b":54,"r":135,"k":"P"},{"a":54,"b":55,"r":135,"k":"L"},{"a":55,"b":56,"r":135,"k":"O"},{"a":56,"b":58,"r":135,"k":"R"},{"a":60,"b":61,"r":135,"k":"R"},{"a":28,"b":30,"r":136,"k":"P"},{"a":30,"b":33,"r":136,"k":"L"},{"a":33,"b":34,"r":136,"k":"C"},{"a":34,"b":35,"r":136,"k":"B"},{"a":35,"b":36,"r":136,"k":"C"},{"a":37,"b":40,"r":136,"k":"R"},{"a":40,"b":41,"r":136,"k":"C"},{"a":41,"b":42,"r":136,"k":"P"},{"a":42,"b":43,"r":136,"k":"G"},{"a":43,"b":44,"r":136,"k":"P"},{"a":44,"b":45,"r":136,"k":"B"},{"a":45,"b":48,"r":136,"k":"P"},{"a":48,"b":49,"r":136,"k":"B"},{"a":49,"b":50,"r":136,"k":"P"},{"a":50,"b":51,"r":136,"k":"C"},{"a":51,"b":53,"r":136,"k":"Y"},{"a":53,"b":54,"r":136,"k":"P"},{"a":54,"b":55,"r":136,"k":"L"},{"a":55,"b":56,"r":136,"k":"Y"},{"a":56,"b":58,"r":136,"k":"R"},{"a":59,"b":61,"r":136,"k":"R"},{"a":34,"b":37,"r":137,"k":"P"},{"a":37,"b":38,"r":137,"k":"G"},{"a":38,"b":39,"r":137,"k":"B"},{"a":39,"b":43,"r":137,"k":"P"},{"a":43,"b":44,"r":137,"k":"B"},{"a":44,"b":48,"r":137,"k":"P"},{"a":48,"b":49,"r":137,"k":"G"},{"a":49,"b":50,"r":137,"k":"P"},{"a":50,"b":51,"r":137,"k":"C"},{"a":51,"b":52,"r":137,"k":"Y"},{"a":52,"b":53,"r":137,"k":"P"},{"a":53,"b":54,"r":137,"k":"Y"},{"a":54,"b":55,"r":137,"k":"L"},{"a":55,"b":56,"r":137,"k":"R"},{"a":59,"b":60,"r":137,"k":"R"},{"a":60,"b":61,"r":137,"k":"Y"},{"a":61,"b":63,"r":137,"k":"R"},{"a":39,"b":43,"r":138,"k":"P"},{"a":43,"b":44,"r":138,"k":"C"},{"a":44,"b":45,"r":138,"k":"P"},{"a":45,"b":46,"r":138,"k":"B"},{"a":46,"b":52,"r":138,"k":"P"},{"a":52,"b":53,"r":138,"k":"C"},{"a":53,"b":54,"r":138,"k":"Y"},{"a":60,"b":61,"r":138,"k":"R"},{"a":61,"b":63,"r":138,"k":"O"},{"a":63,"b":65,"r":138,"k":"R"},{"a":74,"b":75,"r":138,"k":"R"},{"a":76,"b":78,"r":138,"k":"R"},{"a":91,"b":92,"r":138,"k":"R"},{"a":46,"b":47,"r":139,"k":"Y"},{"a":47,"b":48,"r":139,"k":"G"},{"a":48,"b":50,"r":139,"k":"P"},{"a":50,"b":51,"r":139,"k":"B"},{"a":51,"b":53,"r":139,"k":"R"},{"a":62,"b":63,"r":139,"k":"R"},{"a":63,"b":66,"r":139,"k":"Y"},{"a":66,"b":67,"r":139,"k":"R"},{"a":74,"b":78,"r":139,"k":"R"},{"a":82,"b":83,"r":139,"k":"O"},{"a":90,"b":91,"r":139,"k":"R"},
{"a":28,"b":29,"r":140,"k":"B"},{"a":29,"b":33,"r":140,"k":"P"},{"a":63,"b":64,"r":140,"k":"Y"},{"a":64,"b":69,"r":140,"k":"R"},{"a":74,"b":79,"r":140,"k":"R"},{"a":80,"b":81,"r":140,"k":"Y"},{"a":81,"b":87,"r":140,"k":"R"},{"a":87,"b":88,"r":140,"k":"C"},{"a":88,"b":89,"r":140,"k":"O"},{"a":89,"b":91,"r":140,"k":"R"},{"a":112,"b":114,"r":140,"k":"R"},{"a":135,"b":136,"r":140,"k":"Y"},{"a":29,"b":31,"r":141,"k":"P"},{"a":31,"b":32,"r":141,"k":"C"},{"a":32,"b":33,"r":141,"k":"Y"},{"a":33,"b":34,"r":141,"k":"P"},{"a":34,"b":35,"r":141,"k":"B"},{"a":35,"b":37,"r":141,"k":"P"},{"a":37,"b":38,"r":141,"k":"C"},{"a":63,"b":65,"r":141,"k":"R"},{"a":65,"b":66,"r":141,"k":"O"},{"a":66,"b":67,"r":141,"k":"Y"},{"a":67,"b":68,"r":141,"k":"O"},{"a":68,"b":70,"r":141,"k":"R"},{"a":72,"b":81,"r":141,"k":"R"},{"a":81,"b":82,"r":141,"k":"Y"},{"a":82,"b":84,"r":141,"k":"R"},{"a":84,"b":85,"r":141,"k":"Y"},{"a":85,"b":88,"r":141,"k":"O"},{"a":88,"b":92,"r":141,"k":"R"},{"a":113,"b":114,"r":141,"k":"R"},{"a":120,"b":121,"r":141,"k":"R"},{"a":128,"b":129,"r":141,"k":"R"},{"a":134,"b":136,"r":141,"k":"R"},{"a":136,"b":137,"r":141,"k":"O"},{"a":140,"b":141,"r":141,"k":"O"},{"a":165,"b":168,"r":141,"k":"R"},
{"a":29,"b":32,"r":142,"k":"P"},{"a":32,"b":33,"r":142,"k":"O"},{"a":33,"b":34,"r":142,"k":"P"},{"a":34,"b":35,"r":142,"k":"B"},{"a":35,"b":39,"r":142,"k":"P"},{"a":39,"b":41,"r":142,"k":"B"},{"a":41,"b":43,"r":142,"k":"Y"},{"a":43,"b":44,"r":142,"k":"O"},{"a":63,"b":65,"r":142,"k":"R"},{"a":65,"b":68,"r":142,"k":"O"},{"a":68,"b":69,"r":142,"k":"C"},{"a":69,"b":70,"r":142,"k":"R"},{"a":70,"b":71,"r":142,"k":"G"},{"a":71,"b":72,"r":142,"k":"R"},{"a":72,"b":74,"r":142,"k":"O"},{"a":74,"b":75,"r":142,"k":"R"},{"a":81,"b":82,"r":142,"k":"R"},{"a":82,"b":83,"r":142,"k":"Y"},{"a":83,"b":84,"r":142,"k":"G"},{"a":84,"b":85,"r":142,"k":"Y"},{"a":85,"b":88,"r":142,"k":"O"},{"a":88,"b":89,"r":142,"k":"R"},{"a":89,"b":90,"r":142,"k":"G"},{"a":90,"b":91,"r":142,"k":"O"},{"a":91,"b":96,"r":142,"k":"R"},{"a":113,"b":114,"r":142,"k":"R"},{"a":119,"b":122,"r":142,"k":"R"},{"a":127,"b":130,"r":142,"k":"R"},{"a":133,"b":134,"r":142,"k":"O"},{"a":134,"b":135,"r":142,"k":"Y"},{"a":135,"b":136,"r":142,"k":"G"},{"a":136,"b":137,"r":142,"k":"O"},{"a":137,"b":138,"r":142,"k":"Y"},{"a":138,"b":140,"r":142,"k":"R"},{"a":140,"b":141,"r":142,"k":"O"},
{"a":29,"b":30,"r":143,"k":"P"},{"a":30,"b":31,"r":143,"k":"R"},{"a":31,"b":32,"r":143,"k":"G"},{"a":32,"b":33,"r":143,"k":"P"},{"a":33,"b":34,"r":143,"k":"B"},{"a":34,"b":39,"r":143,"k":"P"},{"a":39,"b":40,"r":143,"k":"Y"},{"a":40,"b":41,"r":143,"k":"O"},{"a":41,"b":42,"r":143,"k":"G"},{"a":42,"b":43,"r":143,"k":"Y"},{"a":43,"b":44,"r":143,"k":"R"},{"a":68,"b":70,"r":143,"k":"R"},{"a":70,"b":72,"r":143,"k":"O"},{"a":72,"b":73,"r":143,"k":"L"},{"a":73,"b":74,"r":143,"k":"O"},{"a":74,"b":75,"r":143,"k":"R"},{"a":81,"b":86,"r":143,"k":"R"},{"a":86,"b":87,"r":143,"k":"O"},{"a":87,"b":89,"r":143,"k":"R"},{"a":89,"b":90,"r":143,"k":"C"},{"a":90,"b":91,"r":143,"k":"R"},{"a":91,"b":92,"r":143,"k":"O"},{"a":92,"b":93,"r":143,"k":"R"},{"a":93,"b":94,"r":143,"k":"O"},{"a":94,"b":95,"r":143,"k":"Y"},{"a":95,"b":96,"r":143,"k":"R"},{"a":105,"b":106,"r":143,"k":"R"},{"a":113,"b":114,"r":143,"k":"R"},{"a":118,"b":119,"r":143,"k":"R"},{"a":119,"b":120,"r":143,"k":"O"},{"a":120,"b":125,"r":143,"k":"R"},{"a":125,"b":126,"r":143,"k":"Y"},{"a":126,"b":128,"r":143,"k":"R"},{"a":128,"b":130,"r":143,"k":"Y"},{"a":130,"b":131,"r":143,"k":"O"},{"a":131,"b":132,"r":143,"k":"G"},{"a":132,"b":133,"r":143,"k":"O"},{"a":133,"b":134,"r":143,"k":"R"},{"a":134,"b":135,"r":143,"k":"Y"},{"a":135,"b":136,"r":143,"k":"G"},{"a":136,"b":137,"r":143,"k":"R"},{"a":137,"b":140,"r":143,"k":"Y"},{"a":140,"b":141,"r":143,"k":"G"},{"a":146,"b":148,"r":143,"k":"R"},
{"a":24,"b":25,"r":144,"k":"R"},{"a":28,"b":29,"r":144,"k":"R"},{"a":30,"b":31,"r":144,"k":"R"},{"a":31,"b":33,"r":144,"k":"P"},{"a":33,"b":34,"r":144,"k":"R"},{"a":34,"b":39,"r":144,"k":"P"},{"a":40,"b":43,"r":144,"k":"Y"},{"a":43,"b":44,"r":144,"k":"P"},{"a":72,"b":73,"r":144,"k":"O"},{"a":73,"b":75,"r":144,"k":"R"},{"a":85,"b":88,"r":144,"k":"R"},{"a":88,"b":89,"r":144,"k":"G"},{"a":89,"b":95,"r":144,"k":"R"},{"a":95,"b":96,"r":144,"k":"Y"},{"a":96,"b":97,"r":144,"k":"G"},{"a":97,"b":98,"r":144,"k":"R"},{"a":104,"b":107,"r":144,"k":"R"},{"a":113,"b":114,"r":144,"k":"Y"},{"a":114,"b":115,"r":144,"k":"R"},{"a":118,"b":119,"r":144,"k":"O"},{"a":119,"b":124,"r":144,"k":"R"},{"a":124,"b":125,"r":144,"k":"G"},{"a":125,"b":126,"r":144,"k":"Y"},{"a":130,"b":132,"r":144,"k":"R"},{"a":132,"b":133,"r":144,"k":"O"},{"a":136,"b":138,"r":144,"k":"R"},{"a":138,"b":139,"r":144,"k":"Y"},{"a":139,"b":140,"r":144,"k":"R"},{"a":140,"b":141,"r":144,"k":"O"},{"a":141,"b":143,"r":144,"k":"B"},{"a":143,"b":144,"r":144,"k":"P"},{"a":144,"b":145,"r":144,"k":"O"},{"a":145,"b":146,"r":144,"k":"R"},{"a":146,"b":148,"r":144,"k":"O"},
{"a":25,"b":26,"r":145,"k":"R"},{"a":27,"b":28,"r":145,"k":"O"},{"a":28,"b":30,"r":145,"k":"R"},{"a":30,"b":31,"r":145,"k":"C"},{"a":31,"b":34,"r":145,"k":"P"},{"a":34,"b":35,"r":145,"k":"Y"},{"a":35,"b":36,"r":145,"k":"P"},{"a":36,"b":37,"r":145,"k":"L"},{"a":37,"b":40,"r":145,"k":"P"},{"a":40,"b":42,"r":145,"k":"R"},{"a":93,"b":94,"r":145,"k":"G"},{"a":94,"b":95,"r":145,"k":"R"},{"a":95,"b":96,"r":145,"k":"Y"},{"a":96,"b":97,"r":145,"k":"O"},{"a":97,"b":99,"r":145,"k":"Y"},{"a":103,"b":107,"r":145,"k":"R"},{"a":114,"b":117,"r":145,"k":"R"},{"a":117,"b":118,"r":145,"k":"C"},{"a":118,"b":119,"r":145,"k":"Y"},{"a":123,"b":126,"r":145,"k":"R"},{"a":131,"b":132,"r":145,"k":"R"},{"a":140,"b":141,"r":145,"k":"R"},{"a":141,"b":142,"r":145,"k":"G"},{"a":142,"b":145,"r":145,"k":"R"},{"a":145,"b":146,"r":145,"k":"O"},{"a":146,"b":147,"r":145,"k":"P"},{"a":147,"b":148,"r":145,"k":"G"},
{"a":26,"b":30,"r":146,"k":"R"},{"a":30,"b":31,"r":146,"k":"Y"},{"a":31,"b":32,"r":146,"k":"P"},{"a":32,"b":33,"r":146,"k":"B"},{"a":33,"b":40,"r":146,"k":"P"},{"a":40,"b":41,"r":146,"k":"R"},{"a":96,"b":103,"r":146,"k":"R"},{"a":103,"b":104,"r":146,"k":"O"},{"a":104,"b":105,"r":146,"k":"Y"},{"a":105,"b":108,"r":146,"k":"R"},{"a":112,"b":113,"r":146,"k":"O"},{"a":113,"b":114,"r":146,"k":"Y"},{"a":114,"b":119,"r":146,"k":"R"},{"a":140,"b":142,"r":146,"k":"R"},{"a":144,"b":145,"r":146,"k":"G"},{"a":145,"b":148,"r":146,"k":"L"},{"a":148,"b":150,"r":146,"k":"R"},
{"a":30,"b":31,"r":147,"k":"O"},{"a":31,"b":33,"r":147,"k":"P"},{"a":33,"b":34,"r":147,"k":"B"},{"a":34,"b":36,"r":147,"k":"P"},{"a":36,"b":37,"r":147,"k":"C"},{"a":37,"b":38,"r":147,"k":"P"},{"a":38,"b":39,"r":147,"k":"B"},{"a":39,"b":40,"r":147,"k":"R"},{"a":97,"b":100,"r":147,"k":"R"},{"a":100,"b":102,"r":147,"k":"O"},{"a":102,"b":103,"r":147,"k":"Y"},{"a":103,"b":104,"r":147,"k":"L"},{"a":104,"b":105,"r":147,"k":"G"},{"a":105,"b":106,"r":147,"k":"Y"},{"a":106,"b":107,"r":147,"k":"O"},{"a":107,"b":108,"r":147,"k":"Y"},{"a":108,"b":109,"r":147,"k":"R"},{"a":109,"b":110,"r":147,"k":"P"},{"a":110,"b":113,"r":147,"k":"R"},{"a":113,"b":114,"r":147,"k":"G"},{"a":114,"b":115,"r":147,"k":"R"},{"a":144,"b":145,"r":147,"k":"Y"},{"a":145,"b":148,"r":147,"k":"R"},{"a":148,"b":150,"r":147,"k":"O"},{"a":150,"b":151,"r":147,"k":"Y"},{"a":151,"b":152,"r":147,"k":"O"},
{"a":31,"b":32,"r":148,"k":"Y"},{"a":32,"b":37,"r":148,"k":"P"},{"a":37,"b":38,"r":148,"k":"Y"},{"a":38,"b":39,"r":148,"k":"R"},{"a":99,"b":104,"r":148,"k":"R"},{"a":104,"b":105,"r":148,"k":"O"},{"a":105,"b":110,"r":148,"k":"R"},{"a":110,"b":112,"r":148,"k":"O"},{"a":112,"b":115,"r":148,"k":"R"},{"a":148,"b":150,"r":148,"k":"R"},{"a":150,"b":151,"r":148,"k":"O"},
{"a":31,"b":32,"r":149,"k":"R"},{"a":32,"b":33,"r":149,"k":"Y"},{"a":33,"b":36,"r":149,"k":"P"},{"a":36,"b":37,"r":149,"k":"C"},{"a":37,"b":38,"r":149,"k":"R"},{"a":149,"b":150,"r":149,"k":"O"},{"a":150,"b":151,"r":149,"k":"Y"},{"a":31,"b":32,"r":150,"k":"O"},{"a":32,"b":37,"r":150,"k":"P"},{"a":149,"b":150,"r":150,"k":"O"},{"a":150,"b":152,"r":150,"k":"R"},{"a":31,"b":32,"r":151,"k":"O"},{"a":32,"b":34,"r":151,"k":"P"},{"a":34,"b":36,"r":151,"k":"B"},{"a":36,"b":37,"r":151,"k":"R"},{"a":152,"b":153,"r":151,"k":"R"},{"a":31,"b":34,"r":152,"k":"P"},{"a":34,"b":35,"r":152,"k":"L"},{"a":35,"b":37,"r":152,"k":"P"},{"a":32,"b":33,"r":153,"k":"L"},{"a":33,"b":35,"r":153,"k":"P"},{"a":35,"b":36,"r":153,"k":"C"},{"a":36,"b":37,"r":153,"k":"P"},{"a":32,"b":36,"r":154,"k":"P"},{"a":36,"b":37,"r":154,"k":"O"},{"a":37,"b":38,"r":154,"k":"R"},{"a":32,"b":33,"r":155,"k":"O"},{"a":33,"b":37,"r":155,"k":"P"},{"a":37,"b":38,"r":155,"k":"Y"},{"a":32,"b":33,"r":156,"k":"O"},{"a":33,"b":34,"r":156,"k":"L"},{"a":34,"b":35,"r":156,"k":"G"},{"a":35,"b":37,"r":156,"k":"P"},{"a":37,"b":38,"r":156,"k":"Y"},{"a":38,"b":39,"r":156,"k":"G"},{"a":33,"b":35,"r":157,"k":"P"},{"a":35,"b":36,"r":157,"k":"C"},{"a":36,"b":37,"r":157,"k":"Y"},{"a":37,"b":38,"r":157,"k":"P"},{"a":38,"b":39,"r":157,"k":"Y"},{"a":39,"b":40,"r":157,"k":"R"},{"a":34,"b":35,"r":158,"k":"Y"},{"a":35,"b":37,"r":158,"k":"B"},{"a":37,"b":38,"r":158,"k":"P"},{"a":38,"b":39,"r":158,"k":"C"},{"a":39,"b":40,"r":158,"k":"L"},{"a":40,"b":41,"r":158,"k":"R"},{"a":34,"b":36,"r":159,"k":"R"},{"a":36,"b":37,"r":159,"k":"C"},{"a":37,"b":39,"r":159,"k":"B"},{"a":39,"b":40,"r":159,"k":"P"},{"a":40,"b":41,"r":159,"k":"O"},{"a":36,"b":37,"r":160,"k":"R"},{"a":37,"b":38,"r":160,"k":"G"},{"a":38,"b":39,"r":160,"k":"P"},{"a":39,"b":40,"r":160,"k":"G"},{"a":40,"b":41,"r":160,"k":"Y"},{"a":37,"b":38,"r":161,"k":"R"},{"a":38,"b":40,"r":161,"k":"O"},{"a":40,"b":41,"r":161,"k":"Y"},{"a":41,"b":42,"r":162,"k":"R"},
{"a":121,"b":122,"r":131,"k":"R"},{"a":129,"b":130,"r":131,"k":"R"},{"a":183,"b":184,"r":131,"k":"R"},{"a":121,"b":122,"r":132,"k":"R"},{"a":129,"b":130,"r":132,"k":"R"},{"a":129,"b":130,"r":133,"k":"R"},{"a":109,"b":110,"r":134,"k":"R"},{"a":109,"b":110,"r":135,"k":"R"},{"a":141,"b":142,"r":135,"k":"R"},{"a":121,"b":122,"r":136,"k":"R"},{"a":141,"b":142,"r":136,"k":"R"},{"a":109,"b":110,"r":137,"k":"R"},{"a":121,"b":122,"r":137,"k":"O"},{"a":122,"b":123,"r":137,"k":"R"},{"a":129,"b":130,"r":137,"k":"R"},{"a":132,"b":133,"r":137,"k":"R"},{"a":141,"b":142,"r":137,"k":"R"},{"a":110,"b":111,"r":138,"k":"R"},{"a":121,"b":124,"r":138,"k":"R"},{"a":129,"b":132,"r":138,"k":"R"},{"a":141,"b":143,"r":138,"k":"R"},{"a":166,"b":167,"r":138,"k":"R"},{"a":129,"b":130,"r":139,"k":"R"},{"a":141,"b":143,"r":139,"k":"R"},{"a":166,"b":167,"r":139,"k":"R"},{"a":166,"b":168,"r":140,"k":"R"},{"a":131,"b":132,"r":167,"k":"R"},{"a":131,"b":132,"r":168,"k":"R"}
]},
"resolve":{"scale":{"x":"independent","y":"independent","color":"independent","stroke":"independent"}},
"layer":[
{"data":{"name":"cells"},"mark":{"type":"rect","height":4.75,"strokeWidth":0.3},
"encoding":{"x":{"field":"a","type":"quantitative","axis":null,"scale":{"domain":[2.92,198.85],"nice":false,"zero":false}},"x2":{"field":"b"},
"y":{"field":"r","type":"quantitative","axis":null,"scale":{"domain":[0.28,171.59],"reverse":true,"nice":false,"zero":false}},
"color":{"field":"k","type":"nominal","legend":null,"scale":{"domain":["P","B","C","L","G","Y","O","N","R"],"range":["#660055","#0000ff","#00ffff","#aaff80","#00ff00","#ffff00","#ffaa00","#ff5500","#ff0000"]}},
"stroke":{"field":"k","type":"nominal","legend":null,"scale":{"domain":["P","B","C","L","G","Y","O","N","R"],"range":["#660055","#0000ff","#00ffff","#aaff80","#00ff00","#ffff00","#ffaa00","#ff5500","#ff0000"]}}}},
{"data":{"name":"panel"},"mark":{"type":"rect","color":"#ffffff"},
"encoding":{"x":{"field":"a","type":"quantitative","axis":null,"scale":{"domain":[2.92,198.85],"nice":false,"zero":false}},"x2":{"field":"b"},
"y":{"field":"t","type":"quantitative","axis":null,"scale":{"domain":[0.78,172.09],"reverse":true,"nice":false,"zero":false}},"y2":{"field":"u"}}},
{"data":{"name":"table"},"mark":{"type":"rect","stroke":"#1a1a1a","strokeWidth":1.8},
"encoding":{"x":{"field":"col","type":"nominal","axis":null,"sort":null,"scale":{"type":"band","domain":["TP (PPB)","Color"],"range":[468.3,805],"paddingInner":0,"paddingOuter":0}},
"y":{"field":"row","type":"nominal","axis":null,"sort":null,"scale":{"type":"band","domain":["TP (PPB)","0 – 5","6 – 10","11 – 15","16 – 20","21 – 30","31 – 40","41 – 50","51 – 60",">60"],"range":[98.7,420.7],"paddingInner":0,"paddingOuter":0}},
"color":{"field":"k","type":"nominal","legend":null,"scale":{"domain":["W","P","B","C","L","G","Y","O","N","R"],"range":["#ffffff","#660055","#0000ff","#00ffff","#aaff80","#00ff00","#ffff00","#ffaa00","#ff5500","#ff0000"]}}}},
{"data":{"name":"table"},"transform":[{"filter":"datum.h===0 && datum.text!==''"}],"mark":{"type":"text","font":"Liberation Sans","fontSize":25,"align":"center","baseline":"middle","color":"#1f1f2a","dy":1,"stroke":"#1f1f2a","strokeWidth":0.3},
"encoding":{"x":{"field":"col","type":"nominal","axis":null,"sort":null,"scale":{"type":"band","domain":["TP (PPB)","Color"],"range":[468.3,805],"paddingInner":0,"paddingOuter":0}},
"y":{"field":"row","type":"nominal","axis":null,"sort":null,"scale":{"type":"band","domain":["TP (PPB)","0 – 5","6 – 10","11 – 15","16 – 20","21 – 30","31 – 40","41 – 50","51 – 60",">60"],"range":[98.7,420.7],"paddingInner":0,"paddingOuter":0}},
"text":{"field":"text"}}},
{"data":{"name":"table"},"transform":[{"filter":"datum.h===1"}],"mark":{"type":"text","font":"Liberation Sans","fontSize":25,"fontWeight":"bold","align":"center","baseline":"middle","color":"#1f1f2a","dy":1},
"encoding":{"x":{"field":"col","type":"nominal","axis":null,"sort":null,"scale":{"type":"band","domain":["TP (PPB)","Color"],"range":[468.3,805],"paddingInner":0,"paddingOuter":0}},
"y":{"field":"row","type":"nominal","axis":null,"sort":null,"scale":{"type":"band","domain":["TP (PPB)","0 – 5","6 – 10","11 – 15","16 – 20","21 – 30","31 – 40","41 – 50","51 – 60",">60"],"range":[98.7,420.7],"paddingInner":0,"paddingOuter":0}},
"text":{"field":"text"}}}
]}
